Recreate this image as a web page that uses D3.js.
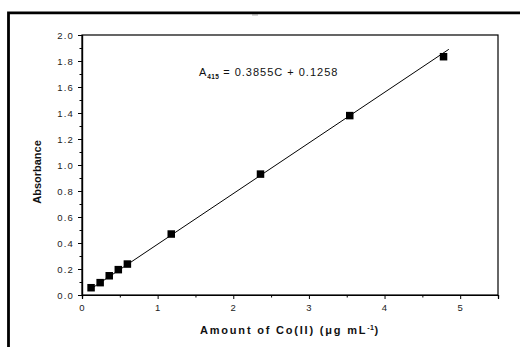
<!DOCTYPE html>
<html><head><meta charset="utf-8">
<script src="https://cdn.jsdelivr.net/npm/d3@7"></script>
<style>body{margin:0;background:#fff}svg{display:block}</style>
</head><body>
<svg id="c" width="520" height="347"></svg>
<script>
const concentration = [0.12, 0.24, 0.36, 0.48, 0.60, 1.18, 2.36, 3.54, 4.78];
const absorbance    = [0.056, 0.095, 0.148, 0.195, 0.238, 0.469, 0.93, 1.38, 1.833];
const fitX = [0.10, 4.85];
const fitY = [0.040, 1.89];
const xTicks = [0, 1, 2, 3, 4, 5];
const yTicks = [0.0, 0.2, 0.4, 0.6, 0.8, 1.0, 1.2, 1.4, 1.6, 1.8, 2.0];
const xMinor = [0.5, 1.5, 2.5, 3.5, 4.5];
const yMinor = [0.1, 0.3, 0.5, 0.7, 0.9, 1.1, 1.3, 1.5, 1.7, 1.9];

const svg = d3.select("#c");
const L = 82, R = 498, T = 35, B = 295;
const x = d3.scaleLinear().domain([0, 5.5]).range([L, R]);
const y = d3.scaleLinear().domain([0, 2]).range([B, T]);
const font = "'Liberation Sans', Arial, sans-serif";

// outer frame
svg.append("path").attr("d", "M8.5,347 V12.8 H520").attr("fill", "none")
  .attr("stroke", "#000").attr("stroke-width", 2.8);
svg.append("line").attr("x1", 252).attr("x2", 258).attr("y1", 14.8).attr("y2", 14.8)
  .attr("stroke", "#999").attr("stroke-width", 1.2);

// plot box
svg.append("rect").attr("x", L).attr("y", T).attr("width", R - L).attr("height", B - T)
  .attr("fill", "none").attr("stroke", "#000").attr("stroke-width", 1.2);

const xAxis = svg.append("g").attr("transform", `translate(0,${B})`)
  .call(d3.axisBottom(x).tickValues(xTicks).tickFormat(d3.format("d")).tickSize(4).tickPadding(3));
svg.append("g").attr("transform", `translate(0,${B})`)
  .call(d3.axisBottom(x).tickValues(xMinor).tickFormat("").tickSize(2.5));
const yAxis = svg.append("g").attr("transform", `translate(${L},0)`)
  .call(d3.axisLeft(y).tickValues(yTicks).tickFormat(d3.format(".1f")).tickSize(4).tickPadding(4));
svg.append("g").attr("transform", `translate(${L},0)`)
  .call(d3.axisLeft(y).tickValues(yMinor).tickFormat("").tickSize(2.5));
svg.selectAll(".domain").attr("stroke", "#000").attr("stroke-width", 1.2);
svg.selectAll(".tick line").attr("stroke", "#000").attr("stroke-width", 1);
svg.selectAll(".tick text").attr("font-family", font).attr("font-size", 9.5).attr("fill", "#222")
  .attr("letter-spacing", 1.2);
xAxis.selectAll(".tick text").attr("dy", "0.9em");

// fit line
svg.append("line").attr("x1", x(fitX[0])).attr("y1", y(fitY[0]))
  .attr("x2", x(fitX[1])).attr("y2", y(fitY[1]))
  .attr("stroke", "#000").attr("stroke-width", 1);

// markers
const s = 7.5;
svg.selectAll("rect.pt").data(concentration).join("rect").attr("class", "pt")
  .attr("x", (d) => x(d) - s / 2).attr("y", (d, i) => y(absorbance[i]) - s / 2)
  .attr("width", s).attr("height", s).attr("fill", "#000");

// equation
const eq = svg.append("text").attr("x", 199).attr("y", 76).attr("font-family", font)
  .attr("font-size", 11).attr("fill", "#111").attr("letter-spacing", 1);
eq.append("tspan").text("A");
eq.append("tspan").attr("font-size", 6.5).attr("font-weight", "bold").attr("dy", 2.5).attr("letter-spacing", 0.3).text("415");
eq.append("tspan").attr("dy", -2.5).text(" = 0.3855C + 0.1258");

// axis titles
svg.append("text").attr("transform", "translate(41,172) rotate(-90)").attr("text-anchor", "middle")
  .attr("font-family", font).attr("font-size", 11).attr("font-weight", "bold").attr("fill", "#111")
  .text("Absorbance");
const xt = svg.append("text").attr("x", 290).attr("y", 334).attr("text-anchor", "middle")
  .attr("font-family", font).attr("font-size", 11).attr("font-weight", "bold").attr("fill", "#111")
  .attr("letter-spacing", 1.8);
xt.append("tspan").text("Amount of Co(II) (μg mL");
xt.append("tspan").attr("font-size", 7).attr("dy", -4).attr("letter-spacing", 0.5).text("-1");
xt.append("tspan").attr("dy", 4).text(")");
</script>
</body></html>
